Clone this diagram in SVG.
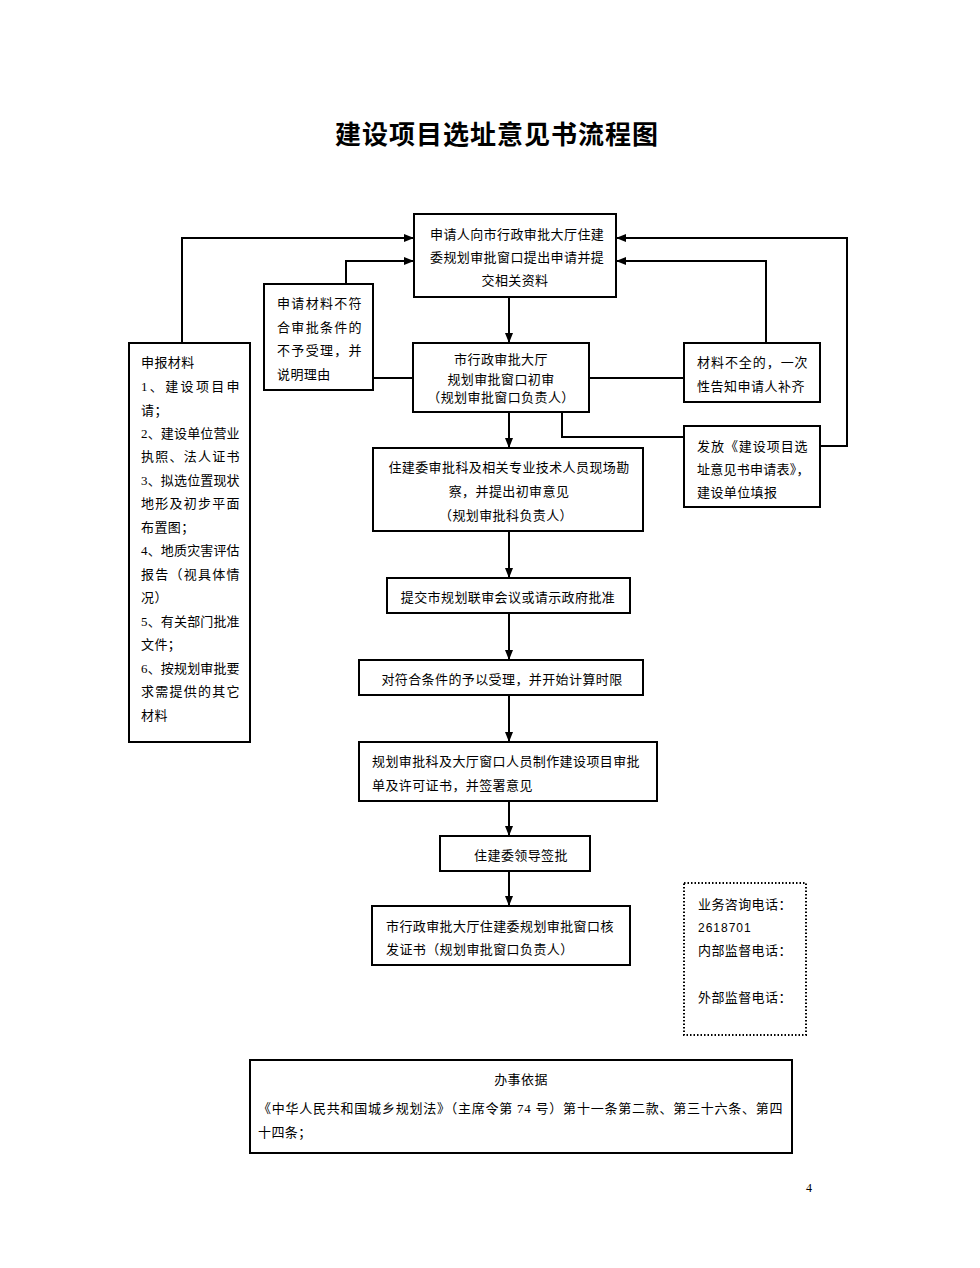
<svg xmlns="http://www.w3.org/2000/svg" width="980" height="1268" viewBox="0 0 980 1268">
<style>
.box{fill:#fff;stroke:#000;stroke-width:2}
.dot{fill:#fff;stroke:#000;stroke-width:2;stroke-dasharray:1.5 2}
.ln{fill:none;stroke:#000;stroke-width:2}
text{font-family:"Liberation Serif","Noto Sans CJK SC",serif;font-size:13px;fill:#000;letter-spacing:0.4px}
.c{text-anchor:middle}
.t{font-size:26px;font-weight:bold;letter-spacing:1px}
</style>
<defs>
<marker id="ar" markerWidth="10" markerHeight="10" refX="9" refY="5" orient="auto" markerUnits="userSpaceOnUse">
<path d="M0,1 L10,5 L0,9 Z" fill="#000"/>
</marker>
</defs>
<rect width="980" height="1268" fill="#fff"/>
<text class="t c" x="497" y="144">建设项目选址意见书流程图</text>

<g id="connectors">
<polyline class="ln" points="182,343 182,238 413,238" marker-end="url(#ar)"/>
<polyline class="ln" points="346,284 346,261 413,261" marker-end="url(#ar)"/>
<line class="ln" x1="509" y1="297" x2="509" y2="342" marker-end="url(#ar)"/>
<line class="ln" x1="373" y1="378" x2="413" y2="378"/>
<line class="ln" x1="589" y1="378" x2="684" y2="378"/>
<polyline class="ln" points="766,343 766,261 617,261" marker-end="url(#ar)"/>
<polyline class="ln" points="820,446 847,446 847,238 617,238" marker-end="url(#ar)"/>
<polyline class="ln" points="562,412 562,437 684,437"/>
<line class="ln" x1="509" y1="412" x2="509" y2="447" marker-end="url(#ar)"/>
<line class="ln" x1="509" y1="531" x2="509" y2="577" marker-end="url(#ar)"/>
<line class="ln" x1="509" y1="613" x2="509" y2="659" marker-end="url(#ar)"/>
<line class="ln" x1="509" y1="695" x2="509" y2="741" marker-end="url(#ar)"/>
<line class="ln" x1="509" y1="801" x2="509" y2="835" marker-end="url(#ar)"/>
<line class="ln" x1="509" y1="871" x2="509" y2="905" marker-end="url(#ar)"/>
</g>

<g id="nodeA">
<rect class="box" x="414" y="214" width="202" height="83"/>
<text x="430" y="239">申请人向市行政审批大厅住建</text>
<text x="430" y="262">委规划审批窗口提出申请并提</text>
<text class="c" x="515" y="285">交相关资料</text>
</g>

<g id="nodeB">
<rect class="box" x="264" y="284" width="109" height="106"/>
<text x="277" y="308" textLength="85" lengthAdjust="spacing">申请材料不符</text>
<text x="277" y="332" textLength="85" lengthAdjust="spacing">合审批条件的</text>
<text x="277" y="355" textLength="85" lengthAdjust="spacing">不予受理，并</text>
<text x="277" y="379">说明理由</text>
</g>

<g id="nodeC">
<rect class="box" x="129" y="343" width="121" height="399"/>
<text x="141" y="367">申报材料</text>
<text x="141" y="391" textLength="99" lengthAdjust="spacing">1、建设项目申</text>
<text x="141" y="415">请；</text>
<text x="141" y="438" textLength="99" lengthAdjust="spacing">2、建设单位营业</text>
<text x="141" y="461" textLength="99" lengthAdjust="spacing">执照、法人证书</text>
<text x="141" y="485" textLength="99" lengthAdjust="spacing">3、拟选位置现状</text>
<text x="141" y="508" textLength="99" lengthAdjust="spacing">地形及初步平面</text>
<text x="141" y="532">布置图；</text>
<text x="141" y="555" textLength="99" lengthAdjust="spacing">4、地质灾害评估</text>
<text x="141" y="579" textLength="99" lengthAdjust="spacing">报告（视具体情</text>
<text x="141" y="602">况）</text>
<text x="141" y="626" textLength="99" lengthAdjust="spacing">5、有关部门批准</text>
<text x="141" y="649">文件；</text>
<text x="141" y="673" textLength="99" lengthAdjust="spacing">6、按规划审批要</text>
<text x="141" y="696" textLength="99" lengthAdjust="spacing">求需提供的其它</text>
<text x="141" y="720">材料</text>
</g>

<g id="nodeD">
<rect class="box" x="413" y="343" width="176" height="69"/>
<text class="c" x="501" y="364">市行政审批大厅</text>
<text class="c" x="501" y="384">规划审批窗口初审</text>
<text class="c" x="501" y="402">（规划审批窗口负责人）</text>
</g>

<g id="nodeE">
<rect class="box" x="684" y="343" width="136" height="59"/>
<text x="697" y="367" textLength="111" lengthAdjust="spacing">材料不全的，一次</text>
<text x="697" y="391" textLength="108" lengthAdjust="spacing">性告知申请人补齐</text>
</g>

<g id="nodeF">
<rect class="box" x="684" y="426" width="136" height="81"/>
<text x="697" y="451" textLength="111" lengthAdjust="spacing">发放《建设项目选</text>
<text x="697" y="474" textLength="113" lengthAdjust="spacing">址意见书申请表》，</text>
<text x="697" y="497">建设单位填报</text>
</g>

<g id="nodeG">
<rect class="box" x="373" y="448" width="270" height="83"/>
<text class="c" x="509" y="472">住建委审批科及相关专业技术人员现场勘</text>
<text class="c" x="509" y="496">察，并提出初审意见</text>
<text class="c" x="506" y="520">（规划审批科负责人）</text>
</g>

<g id="nodeH">
<rect class="box" x="387" y="578" width="243" height="35"/>
<text class="c" x="508" y="602">提交市规划联审会议或请示政府批准</text>
</g>

<g id="nodeI">
<rect class="box" x="359" y="660" width="284" height="35"/>
<text class="c" x="502" y="684">对符合条件的予以受理，并开始计算时限</text>
</g>

<g id="nodeJ">
<rect class="box" x="359" y="742" width="298" height="59"/>
<text x="372" y="766">规划审批科及大厅窗口人员制作建设项目审批</text>
<text x="372" y="790">单及许可证书，并签署意见</text>
</g>

<g id="nodeK">
<rect class="box" x="440" y="836" width="150" height="35"/>
<text class="c" x="521" y="860">住建委领导签批</text>
</g>

<g id="nodeL">
<rect class="box" x="372" y="906" width="258" height="59"/>
<text x="386" y="931">市行政审批大厅住建委规划审批窗口核</text>
<text x="386" y="954">发证书（规划审批窗口负责人）</text>
</g>

<g id="nodeM">
<rect class="dot" x="684" y="883" width="122" height="152"/>
<text x="698" y="909">业务咨询电话：</text>
<text x="698" y="932" style="font-family:'Liberation Sans',sans-serif;font-size:12px;letter-spacing:1px">2618701</text>
<text x="698" y="955">内部监督电话：</text>
<text x="698" y="1002">外部监督电话：</text>
</g>

<g id="nodeN">
<rect class="box" x="250" y="1060" width="542" height="93"/>
<text class="c" x="521" y="1084">办事依据</text>
<text x="258" y="1113" textLength="525" lengthAdjust="spacing">《中华人民共和国城乡规划法》（主席令第 74 号）第十一条第二款、第三十六条、第四</text>
<text x="258" y="1137">十四条；</text>
</g>

<text x="806" y="1192" style="font-size:12px;letter-spacing:0">4</text>
</svg>
